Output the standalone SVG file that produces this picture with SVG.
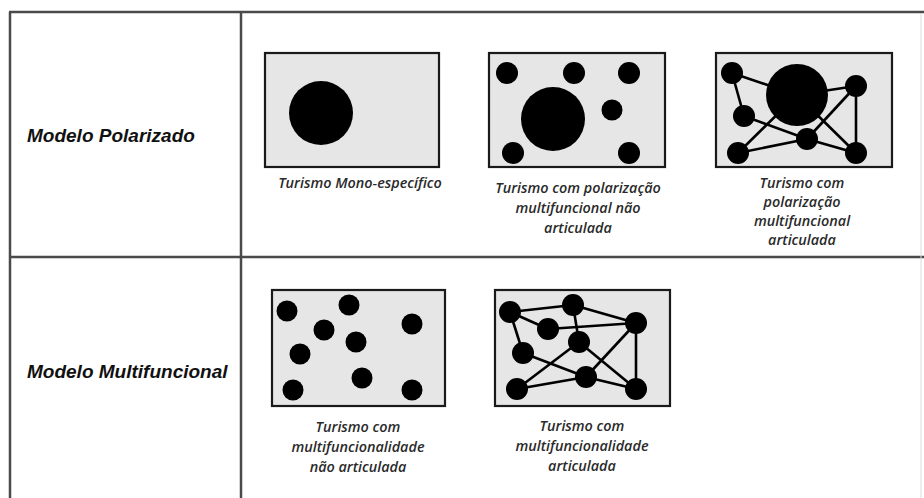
<svg xmlns="http://www.w3.org/2000/svg" width="924" height="498" viewBox="0 0 924 498">
<style>
.grid{stroke:#4a4a4a;stroke-width:2.5;fill:none}
.box{fill:#e6e6e6;stroke:#1a1a1a;stroke-width:2.2}
.dot{fill:#000}
.lbl{font-family:"Liberation Sans",Arial,sans-serif;font-weight:bold;font-style:italic;font-size:19px;fill:#111}
.cap{font-family:"Open Sans","Liberation Sans",sans-serif;font-weight:600;font-style:italic;font-size:14.4px;fill:#2a2a2a;text-anchor:middle}
.con line{stroke:#000;stroke-width:2.6}
</style>
<rect width="924" height="498" fill="#fff"/>
<g id="table">
<line class="grid" x1="10" y1="12" x2="10" y2="498"/>
<line class="grid" x1="9" y1="12" x2="924" y2="12"/>
<line class="grid" x1="241" y1="12" x2="241" y2="498"/>
<line class="grid" x1="10" y1="257" x2="924" y2="257"/>
<line x1="921" y1="14" x2="921" y2="498" stroke="#dcdcdc" stroke-width="1"/>
</g>
<g id="row-polarizado">
<text class="lbl" x="27" y="142">Modelo Polarizado</text>
</g>
<g id="row-multifuncional">
<text class="lbl" x="27" y="378">Modelo Multifuncional</text>
</g>
<g id="panel-mono">
<rect class="box" x="265" y="53" width="174" height="114"/>
<circle class="dot" cx="321" cy="113" r="32"/>
<text class="cap" x="360" y="188">Turismo Mono-específico</text>
</g>
<g id="panel-pol-nao-art">
<rect class="box" x="489" y="53" width="176" height="114"/>
<circle class="dot" cx="553" cy="119" r="32"/>
<circle class="dot" cx="507" cy="73" r="11"/>
<circle class="dot" cx="574" cy="73" r="11"/>
<circle class="dot" cx="629" cy="73" r="11"/>
<circle class="dot" cx="612" cy="110" r="10.5"/>
<circle class="dot" cx="513" cy="153" r="11"/>
<circle class="dot" cx="629" cy="153" r="11"/>
<text class="cap" x="578" y="193">Turismo com polarização</text>
<text class="cap" x="578" y="213">multifuncional não</text>
<text class="cap" x="578" y="233">articulada</text>
</g>
<g id="panel-pol-art">
<rect class="box" x="716" y="53" width="176" height="114"/>
<circle class="dot" cx="797" cy="95" r="31"/>
<circle class="dot" cx="732" cy="73" r="11"/>
<circle class="dot" cx="856" cy="86" r="11"/>
<circle class="dot" cx="744" cy="116" r="11"/>
<circle class="dot" cx="807" cy="139" r="11"/>
<circle class="dot" cx="738" cy="153" r="11"/>
<circle class="dot" cx="856" cy="153" r="11"/>
<text class="cap" x="802" y="188">Turismo com</text>
<text class="cap" x="802" y="207">polarização</text>
<text class="cap" x="802" y="226">multifuncional</text>
<text class="cap" x="802" y="245">articulada</text>
</g>
<g id="panel-multi-nao-art">
<rect class="box" x="272" y="290" width="173" height="116"/>
<circle class="dot" cx="287" cy="311" r="10.5"/>
<circle class="dot" cx="349" cy="305" r="10.5"/>
<circle class="dot" cx="324" cy="330" r="10.5"/>
<circle class="dot" cx="412" cy="324" r="10.5"/>
<circle class="dot" cx="300" cy="354" r="10.5"/>
<circle class="dot" cx="356" cy="342" r="10.5"/>
<circle class="dot" cx="362" cy="378" r="10.5"/>
<circle class="dot" cx="293" cy="390" r="10.5"/>
<circle class="dot" cx="412" cy="390" r="10.5"/>
<text class="cap" x="358" y="432">Turismo com</text>
<text class="cap" x="358" y="452">multifuncionalidade</text>
<text class="cap" x="358" y="472">não articulada</text>
</g>
<g id="panel-multi-art">
<rect class="box" x="495" y="290" width="175" height="116"/>
<circle class="dot" cx="510" cy="312" r="11"/>
<circle class="dot" cx="573" cy="305" r="11"/>
<circle class="dot" cx="548" cy="329" r="11"/>
<circle class="dot" cx="636" cy="323" r="11"/>
<circle class="dot" cx="523" cy="353" r="11"/>
<circle class="dot" cx="579" cy="342" r="11"/>
<circle class="dot" cx="586" cy="377" r="11"/>
<circle class="dot" cx="517" cy="389" r="11"/>
<circle class="dot" cx="636" cy="389" r="11"/>
<text class="cap" x="582" y="431">Turismo com</text>
<text class="cap" x="582" y="451">multifuncionalidade</text>
<text class="cap" x="582" y="471">articulada</text>
</g>
<g id="connectors" class="con">
<line x1="732" y1="73" x2="744" y2="116"/>
<line x1="732" y1="73" x2="797" y2="95"/>
<line x1="797" y1="95" x2="856" y2="86"/>
<line x1="856" y1="86" x2="856" y2="153"/>
<line x1="856" y1="86" x2="807" y2="139"/>
<line x1="797" y1="95" x2="856" y2="153"/>
<line x1="744" y1="116" x2="807" y2="139"/>
<line x1="807" y1="139" x2="856" y2="153"/>
<line x1="738" y1="153" x2="807" y2="139"/>
<line x1="738" y1="153" x2="797" y2="95"/>
<line x1="510" y1="312" x2="573" y2="305"/>
<line x1="510" y1="312" x2="548" y2="329"/>
<line x1="510" y1="312" x2="523" y2="353"/>
<line x1="573" y1="305" x2="636" y2="323"/>
<line x1="573" y1="305" x2="579" y2="342"/>
<line x1="548" y1="329" x2="636" y2="323"/>
<line x1="636" y1="323" x2="636" y2="389"/>
<line x1="636" y1="323" x2="586" y2="377"/>
<line x1="579" y1="342" x2="636" y2="389"/>
<line x1="523" y1="353" x2="586" y2="377"/>
<line x1="517" y1="389" x2="586" y2="377"/>
<line x1="517" y1="389" x2="579" y2="342"/>
<line x1="586" y1="377" x2="636" y2="389"/>
</g>
</svg>
